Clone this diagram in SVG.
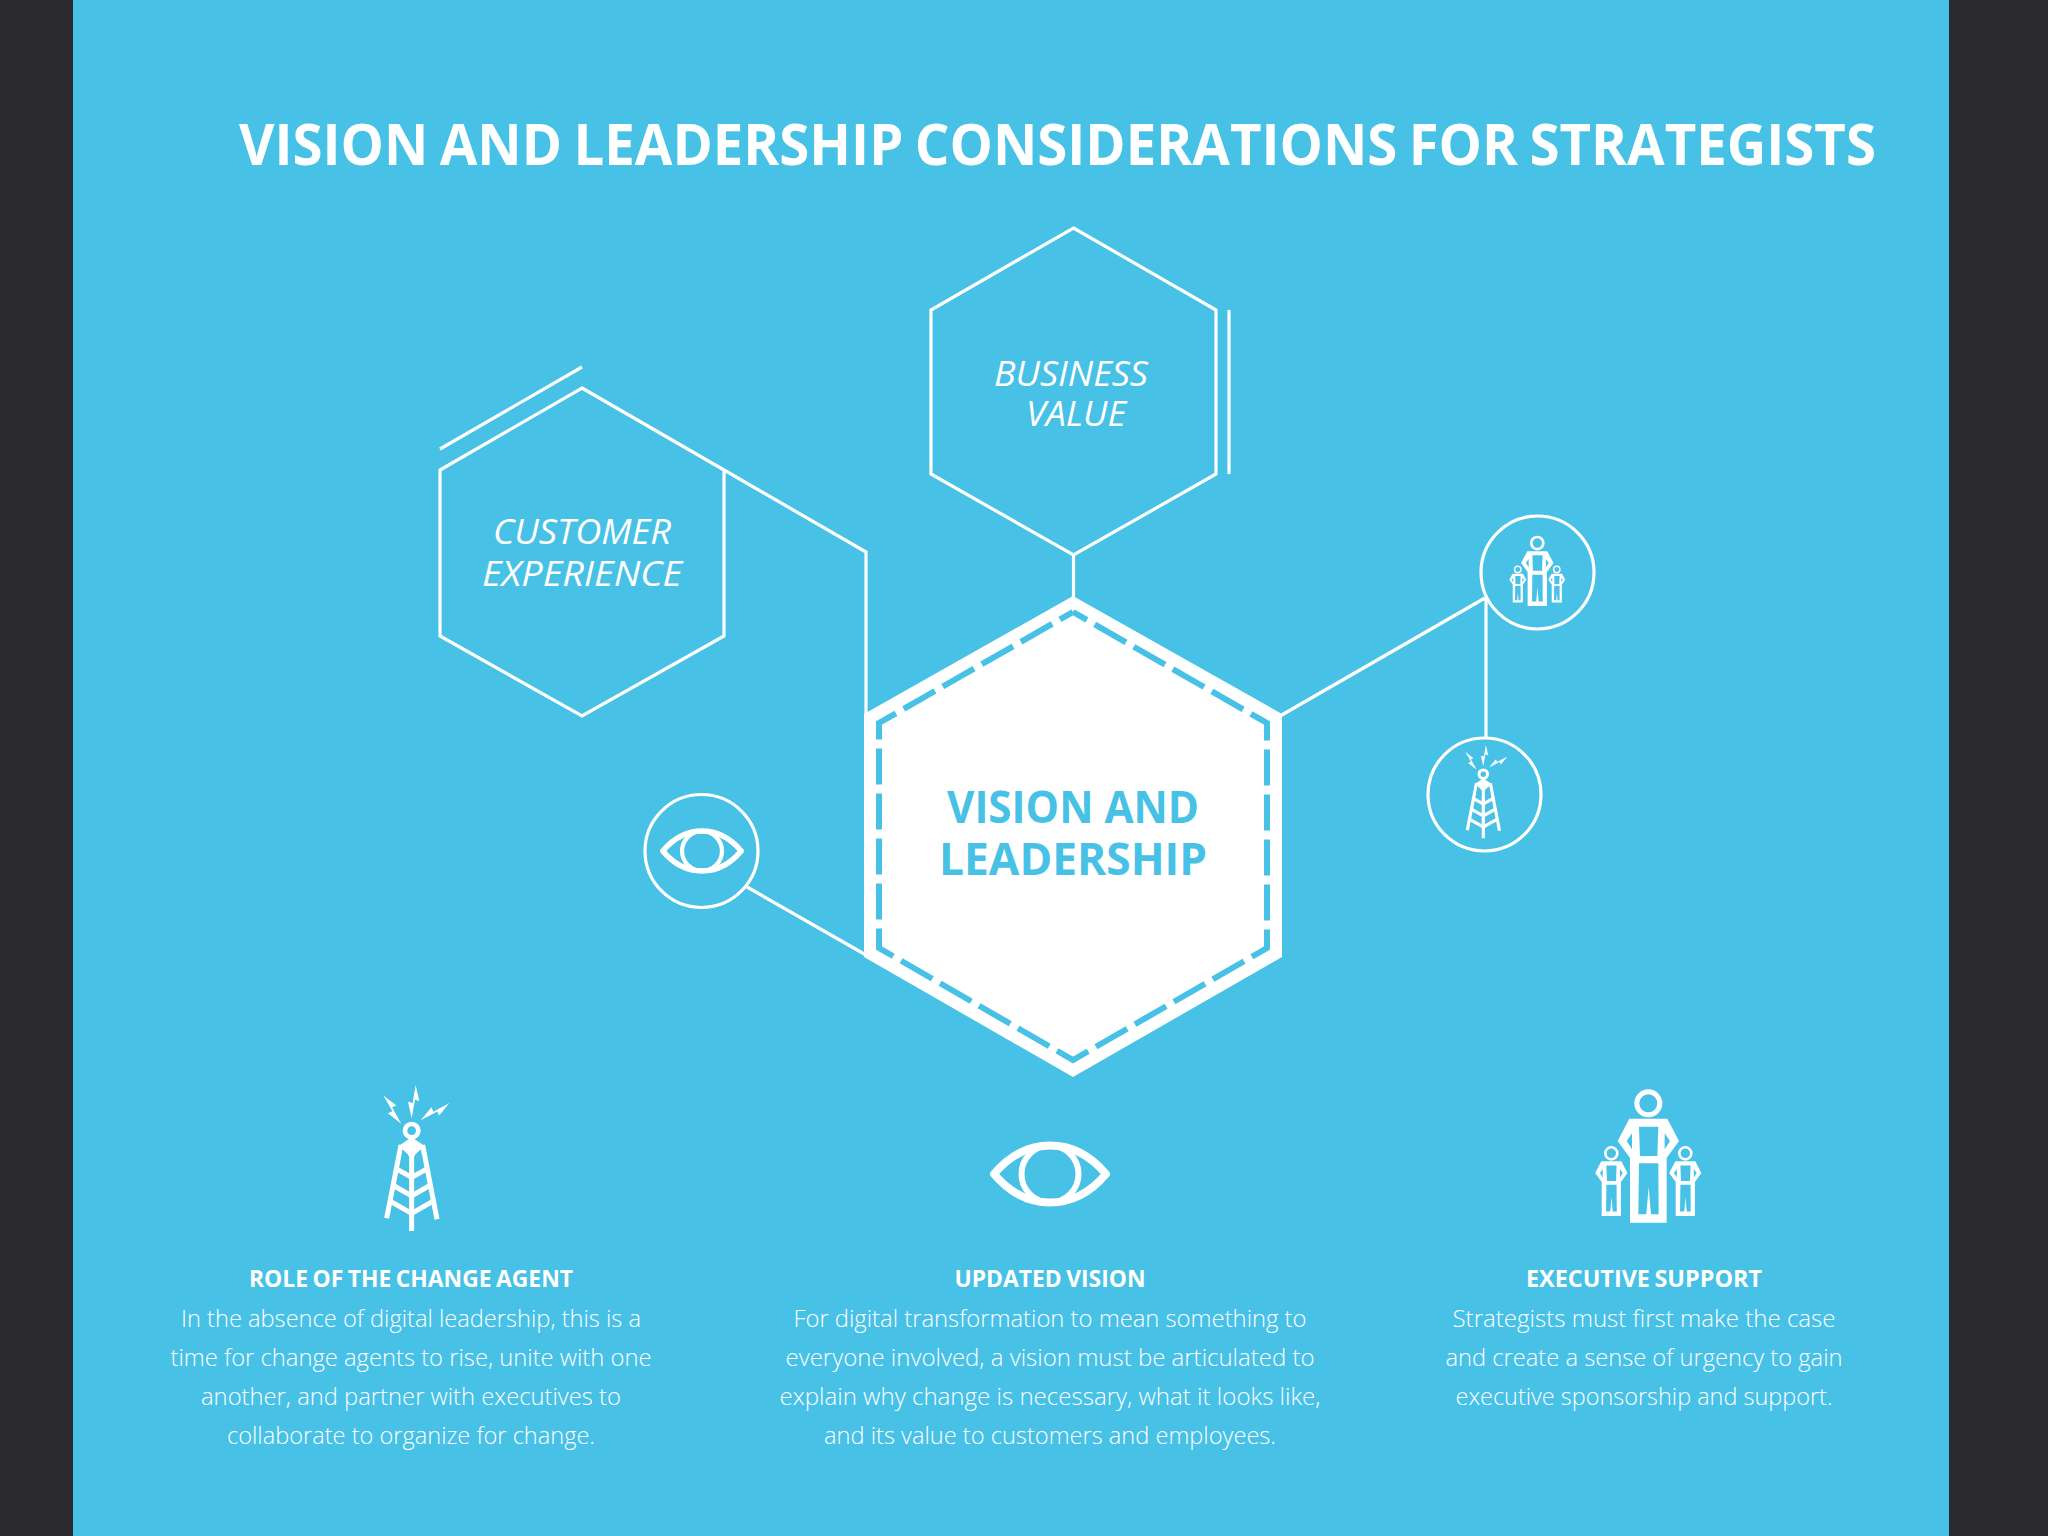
<svg xmlns="http://www.w3.org/2000/svg" xmlns:xlink="http://www.w3.org/1999/xlink" width="2048" height="1536" viewBox="0 0 2048 1536">
<style>
.ln{fill:none;stroke:#fff;stroke-width:3.2}
.t{font-family:"Open Sans","Noto Sans",sans-serif;fill:#fff}
.title{font-size:58px;font-weight:700;word-spacing:-3px}
.hexl{font-size:34px;font-style:italic;font-weight:500;text-anchor:middle}
.main{font-family:"Open Sans","Noto Sans",sans-serif;font-size:45px;font-weight:700;fill:#47c1e6;text-anchor:middle}
.h{font-size:23.500px;font-weight:700;text-anchor:middle;word-spacing:-1.500px}
.b{font-size:24px;font-weight:300;text-anchor:middle}
</style>
<defs>
<g id="eye">
<path d="M-56 0C-40-19-20-28.500 0-28.500C20-28.500 40-19 56 0C40 19 20 28.500 0 28.500C-20 28.500-40 19-56 0Z" fill="none" stroke="#fff" stroke-width="8" stroke-linejoin="round"/>
<circle r="28.500" fill="none" stroke="#fff" stroke-width="6"/>
</g>
<path id="bolt" d="M6-50L17-2L4-6L-6 50L-17 0L-3 4Z" fill="#fff"/>
<g id="tower">
<circle cx="215" cy="212" r="20" fill="none" stroke="#fff" stroke-width="14"/>
<path d="M215 232L250 255L258 280L215 290L172 280L180 255Z" fill="#fff"/>
<g fill="none" stroke="#fff" stroke-width="15">
<path d="M183 255L140 475M248 255L291 478M215 270V513"/>
<path d="M172 328L215 352L258 328M163 378L215 408L267 378M153 425L215 460L277 425"/>
</g>
<path d="M187 268L205 284L207 316L182 303Z M243 268L225 284L223 316L248 303Z" fill="#47c1e6"/>
<use xlink:href="#bolt" href="#bolt" transform="translate(221 125)"/>
<use xlink:href="#bolt" href="#bolt" transform="translate(157 149) rotate(-39)"/>
<use xlink:href="#bolt" href="#bolt" transform="translate(285 155) rotate(52)"/>
</g>
<g id="person">
<circle cx="235" cy="100" r="34.500" fill="none" stroke="#fff" stroke-width="15"/>
<path fill="#fff" fill-rule="evenodd" d="M178 146H292L327 213L290 264V458H180V264L143 213Z M207 170H265L262 258H210Z M207 280H265L266 433H243L236 350L229 433H205Z M186 190L170 213L186 238Z M284 190L300 213L284 238Z"/>
</g>
<g id="people">
<use xlink:href="#person" href="#person"/>
<use xlink:href="#person" href="#person" transform="translate(0.600 197.500) scale(.525)"/>
<use xlink:href="#person" href="#person" transform="translate(222.600 197.500) scale(.525)"/>
</g>
</defs>
<rect width="2048" height="1536" fill="#2b2a2e"/>
<rect x="73" width="1876" height="1536" fill="#47c1e6"/>
<text id="title" class="t title" x="239" y="165" textLength="1637" lengthAdjust="spacingAndGlyphs">VISION AND LEADERSHIP CONSIDERATIONS FOR STRATEGISTS</text>
<g id="connectors" class="ln">
<path d="M724 470L866 552V716"/>
<path d="M1073.500 555V598"/>
<path d="M1280 716L1485 598"/>
<path d="M1486 598V737"/>
<path d="M747 887L866 955"/>
</g>
<g id="business-value">
<path class="ln" d="M1073.500 228L1216 310V474L1073.500 555L931 474V310Z"/>
<path class="ln" d="M1229 310V474"/>
<text class="t hexl" x="1071" y="385.500" textLength="154" lengthAdjust="spacingAndGlyphs">BUSINESS</text>
<text class="t hexl" x="1076" y="426" textLength="100" lengthAdjust="spacingAndGlyphs">VALUE</text>
</g>
<g id="customer-experience">
<path class="ln" d="M582 388L724 470V636L582 716L440 636V470Z"/>
<path class="ln" d="M440 449L582 367"/>
<text class="t hexl" x="582" y="543.500" textLength="178" lengthAdjust="spacingAndGlyphs">CUSTOMER</text>
<text class="t hexl" x="582" y="586" textLength="200" lengthAdjust="spacingAndGlyphs">EXPERIENCE</text>
</g>
<g id="vision-leadership">
<path fill="#fff" d="M1073 596L1282 714V957L1073 1077L864 957V714Z"/>
<path fill="none" stroke="#47c1e6" stroke-width="6" stroke-dasharray="36 9" stroke-dashoffset="20" d="M1073 612L1267 723V948L1073 1060L879 948V723L1073 612"/>
<text class="main" x="1073" y="822.500" textLength="252" lengthAdjust="spacingAndGlyphs">VISION AND</text>
<text class="main" x="1073" y="875" textLength="268" lengthAdjust="spacingAndGlyphs">LEADERSHIP</text>
</g>
<g id="node-eye">
<circle class="ln" cx="701.500" cy="851" r="56.500"/>
<use xlink:href="#eye" href="#eye" transform="translate(702 851) scale(.7)"/>
</g>
<g id="node-people">
<circle class="ln" cx="1537.500" cy="572.500" r="56.500"/>
<use xlink:href="#people" href="#people" transform="translate(1496 525.500) scale(.1757)"/>
</g>
<g id="node-tower">
<circle class="ln" cx="1484.500" cy="794.500" r="56.500"/>
<use xlink:href="#tower" href="#tower" transform="translate(1437.500 729) scale(.213)"/>
</g>
<g id="col-change-agent">
<use xlink:href="#tower" href="#tower" transform="translate(340 1060) scale(.3333)"/>
<text class="t h" x="411" y="1287" textLength="324" lengthAdjust="spacingAndGlyphs">ROLE OF THE CHANGE AGENT</text>
<text class="t b" x="411" y="1327" textLength="460" lengthAdjust="spacingAndGlyphs">In the absence of digital leadership, this is a</text>
<text class="t b" x="411" y="1366" textLength="481" lengthAdjust="spacingAndGlyphs">time for change agents to rise, unite with one</text>
<text class="t b" x="411" y="1405" textLength="420" lengthAdjust="spacingAndGlyphs">another, and partner with executives to</text>
<text class="t b" x="411" y="1444" textLength="368" lengthAdjust="spacingAndGlyphs">collaborate to organize for change.</text>
</g>
<g id="col-updated-vision">
<use xlink:href="#eye" href="#eye" transform="translate(1050 1174)"/>
<text class="t h" x="1050" y="1287" textLength="191" lengthAdjust="spacingAndGlyphs">UPDATED VISION</text>
<text class="t b" x="1050" y="1327" textLength="513" lengthAdjust="spacingAndGlyphs">For digital transformation to mean something to</text>
<text class="t b" x="1050" y="1366" textLength="529" lengthAdjust="spacingAndGlyphs">everyone involved, a vision must be articulated to</text>
<text class="t b" x="1050" y="1405" textLength="541" lengthAdjust="spacingAndGlyphs">explain why change is necessary, what it looks like,</text>
<text class="t b" x="1050" y="1444" textLength="452" lengthAdjust="spacingAndGlyphs">and its value to customers and employees.</text>
</g>
<g id="col-executive-support">
<use xlink:href="#people" href="#people" transform="translate(1570 1070) scale(.3333)"/>
<text class="t h" x="1644" y="1287" textLength="236" lengthAdjust="spacingAndGlyphs">EXECUTIVE SUPPORT</text>
<text class="t b" x="1644" y="1327" textLength="383" lengthAdjust="spacingAndGlyphs">Strategists must first make the case</text>
<text class="t b" x="1644" y="1366" textLength="397" lengthAdjust="spacingAndGlyphs">and create a sense of urgency to gain</text>
<text class="t b" x="1644" y="1405" textLength="377" lengthAdjust="spacingAndGlyphs">executive sponsorship and support.</text>
</g>
</svg>
